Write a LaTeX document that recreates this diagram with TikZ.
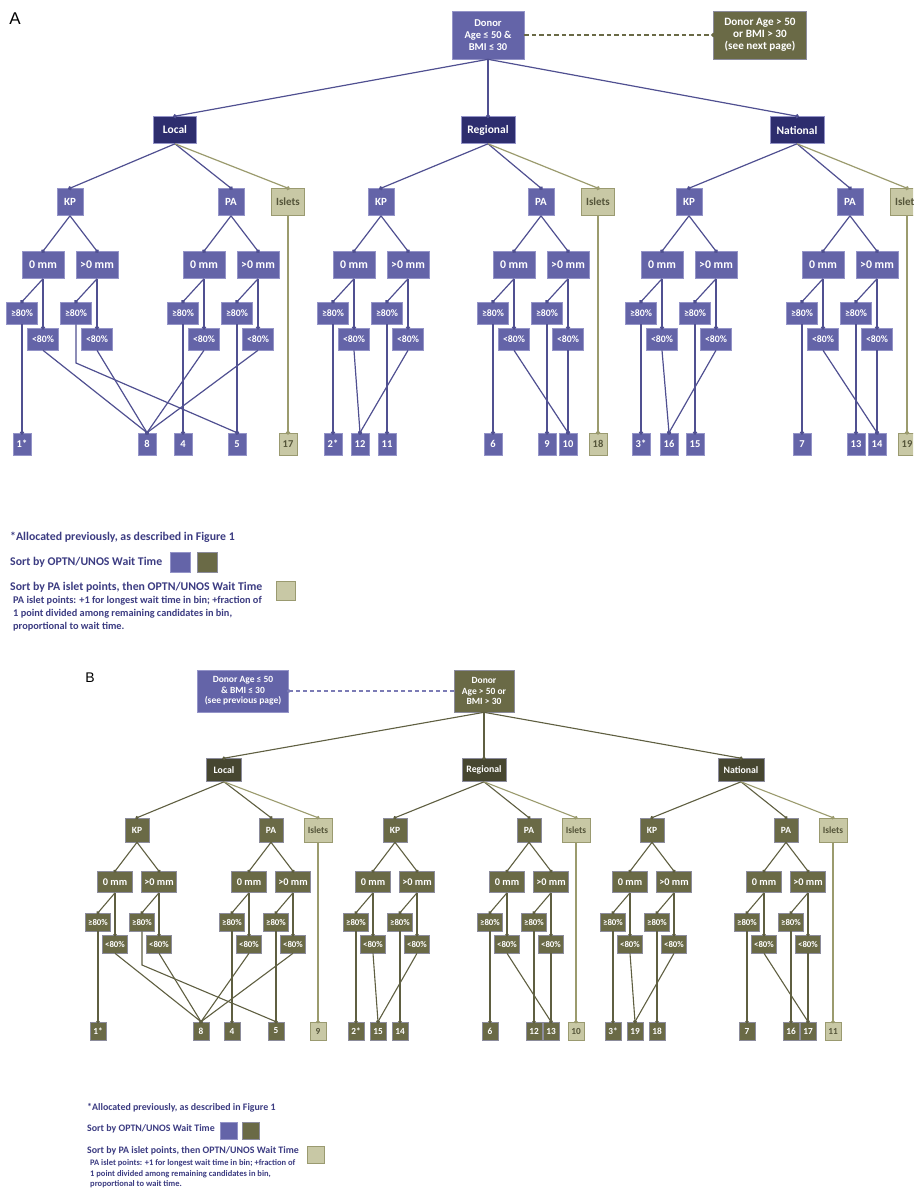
\documentclass[tikz,border=0pt]{standalone}
\usepackage{fontspec}
\setmainfont{Carlito}
\setsansfont{Liberation Sans}
\usetikzlibrary{arrows.meta}

\definecolor{pbox}{HTML}{6464A8}
\definecolor{pedge}{HTML}{9494C8}
\definecolor{pdark}{HTML}{2D2D6E}
\definecolor{pline}{HTML}{505091}
\definecolor{obox}{HTML}{6A6A46}
\definecolor{oedge}{HTML}{8C8C9C}
\definecolor{odark}{HTML}{464630}
\definecolor{oline}{HTML}{5F5F41}
\definecolor{kbox}{HTML}{C8C8A5}
\definecolor{kedge}{HTML}{9A9A70}
\definecolor{ktext}{HTML}{55553A}
\definecolor{kline}{HTML}{9B9B6E}
\definecolor{legtext}{HTML}{3C3C82}

\tikzset{
  bx/.style={rectangle,inner sep=0pt,align=center,text=white,line width=.6pt},
  pu/.style={bx,fill=pbox,draw=pedge},
  pn/.style={bx,fill=pdark,draw=pedge},
  ol/.style={bx,fill=obox,draw=oedge},
  od/.style={bx,fill=odark,draw=oedge},
  kh/.style={bx,fill=kbox,draw=kedge,text=ktext},
  % panel A
  topA/.style={minimum height=48pt,font=\fontsize{10.5}{12}\selectfont\bfseries},
  l1A/.style={minimum height=27pt,font=\fontsize{11.5}{13}\selectfont\bfseries},
  l2A/.style={minimum width=26pt,minimum height=27pt,font=\fontsize{11}{13}\selectfont\bfseries},
  l3A/.style={minimum width=42pt,minimum height=27pt,font=\fontsize{11.8}{13}\selectfont\bfseries},
  l4A/.style={minimum width=31pt,minimum height=22pt,font=\fontsize{9.8}{11}\selectfont\bfseries},
  lfA/.style={minimum width=18pt,minimum height=22pt,font=\fontsize{10.5}{12}\selectfont\bfseries},
  lnA/.style={pline,line width=1.2pt,-{Circle[length=4pt]},shorten >=-2pt},
  % panel B
  topB/.style={minimum height=42pt,font=\fontsize{9.5}{10.5}\selectfont\bfseries},
  l1B/.style={minimum height=23pt,font=\fontsize{9.8}{11}\selectfont\bfseries},
  l2B/.style={minimum width=24pt,minimum height=24pt,font=\fontsize{9.5}{11}\selectfont\bfseries},
  l3B/.style={minimum width=35pt,minimum height=21pt,font=\fontsize{10.3}{11}\selectfont\bfseries},
  l4B/.style={minimum width=25pt,minimum height=18pt,font=\fontsize{8.8}{9}\selectfont\bfseries},
  lfB/.style={minimum width=16pt,minimum height=18pt,font=\fontsize{9.3}{10}\selectfont\bfseries},
  lnB/.style={oline,line width=1.1pt,-{Circle[length=3.4pt]},shorten >=-1.7pt},
  leg/.style={anchor=west,inner sep=0pt,text=legtext,align=left},
}

\begin{document}
\begin{tikzpicture}[x=1pt,y=-1pt]
\useasboundingbox (0,0) rectangle (913,1188);
\clip (0,0) rectangle (913,1188);
\fill[white] (0,0) rectangle (913,1188);

% ---------- A ----------
\node[font=\sffamily\fontsize{17}{17}\selectfont] (labA) at (15,19) {A};
\node[pu,topA,minimum width=72pt] (A-top) at (488,35) {Donor\\Age ≤ 50 \&\\BMI ≤ 30};
\node[ol,topA,minimum width=93pt,font=\fontsize{11.2}{12}\selectfont\bfseries] (A-side) at (760,35) {Donor Age > 50\\or BMI > 30\\(see next page)};
\draw[obox,line width=1.6pt,dash pattern=on 4.5pt off 3pt,-{Circle[length=4pt]},shorten >=-2pt] (A-top.east) -- (A-side.west);
\coordinate (A-bend) at (0,363);

\foreach \r/\x/\w/\t in {loc/175/43/Local, reg/488/54/Regional, nat/797/54/National}{
  \node[pn,l1A,minimum width=\w pt] (A-\r) at (\x,130) {\t};
  \draw[lnA] (A-top.south) -- (A-\r.north);
}
\foreach \r/\k/\p/\i/\n in {loc/70/231/288/17, reg/381/541/598/18, nat/689/850/907/19}{
  \node[pu,l2A] (A-\r-kp) at (\k,202) {KP};
  \node[pu,l2A] (A-\r-pa) at (\p,202) {PA};
  \node[kh,l2A,minimum width=33pt] (A-\r-is) at (\i,202) {Islets};
  \node[kh,lfA] (A-l\n) at (\i,444) {\n};
  \draw[lnA] (A-\r.south) -- (A-\r-kp.north);
  \draw[lnA] (A-\r.south) -- (A-\r-pa.north);
  \draw[lnA,kline] (A-\r.south) -- (A-\r-is.north);
  \draw[lnA,kline] (A-\r-is.south) -- (A-l\n.north);
}
\foreach \n/\x/\t in {1/22/1*, 8/147/8, 4/183/4, 5/237/5, 2/333/2*, 12/360/12, 11/387/11,
    6/493/6, 9/547/9, 10/568/10, 3/641/3*, 16/669/16, 15/695/15, 7/802/7, 13/856/13, 14/877/14}
  \node[pu,lfA] (A-l\n) at (\x,444) {\t};

\foreach \g/\x/\a/\b/\c/\d in {loc-kp/70/1/8/5/8, loc-pa/231/4/8/5/8, reg-kp/381/2/12/11/12,
    reg-pa/541/6/10/9/10, nat-kp/689/3/16/15/16, nat-pa/850/7/14/13/14}{
  \node[pu,l3A] (A-\g-0) at (\x-27,265) {0 mm};
  \node[pu,l3A] (A-\g-1) at (\x+27,265) {>0 mm};
  \foreach \m/\dx in {0/-27,1/27}{
    \node[pu,l4A] (A-\g-\m-hi) at (\x+\dx-21,313) {≥80\%};
    \node[pu,l4A] (A-\g-\m-lo) at (\x+\dx,339) {<80\%};
    \draw[lnA] (A-\g.south) -- (A-\g-\m.north);
    \draw[lnA] (A-\g-\m.south) -- (A-\g-\m-hi.north);
    \draw[lnA] (A-\g-\m.south) -- (A-\g-\m-lo.north);
  }
  \draw[lnA] (A-\g-0-hi.south) -- (A-\g-0-hi.south |- A-bend) -- (A-l\a.north);
  \draw[lnA] (A-\g-0-lo.south) -- (A-l\b.north);
  \draw[lnA] (A-\g-1-hi.south) -- (A-\g-1-hi.south |- A-bend) -- (A-l\c.north);
  \draw[lnA] (A-\g-1-lo.south) -- (A-l\d.north);
}

% legend A
\node[leg,font=\fontsize{11.8}{13}\selectfont\bfseries] (legA1) at (10,537) {*Allocated previously, as described in Figure 1};
\node[leg,font=\fontsize{11.8}{13}\selectfont\bfseries] (legA2) at (10,562) {Sort by OPTN/UNOS Wait Time};
\node[pu,minimum size=20pt] (sqA1) at (180,562) {};
\node[ol,minimum size=20pt] (sqA2) at (207,562) {};
\node[leg,font=\fontsize{11.8}{13}\selectfont\bfseries] (legA3) at (10,587) {Sort by PA islet points, then OPTN/UNOS Wait Time};
\node[kh,minimum size=19pt] (sqA3) at (286,591) {};
\node[leg,font=\fontsize{10.3}{13}\selectfont\bfseries] (legA4) at (13,614)
  {PA islet points: +1 for longest wait time in bin; +fraction of\\1 point divided among remaining candidates in bin,\\proportional to wait time.};

% ---------- B ----------
\node[font=\sffamily\fontsize{14}{14}\selectfont] (labB) at (90,678) {B};
\node[ol,topB,minimum width=60pt] (B-top) at (484,691) {Donor\\Age > 50 or\\BMI > 30};
\node[pu,topB,minimum width=91pt] (B-side) at (243,691) {Donor Age ≤ 50\\\& BMI ≤ 30\\(see previous page)};
\draw[pbox!85!white,line width=1.5pt,dash pattern=on 4pt off 3pt,-{Circle[length=3.6pt]},shorten >=-1.8pt] (B-top.west) -- (B-side.east);
\coordinate (B-bend) at (0,965);

\foreach \r/\x/\w/\t in {loc/224/35/Local, reg/484/44/Regional, nat/741/46/National}{
  \node[od,l1B,minimum width=\w pt] (B-\r) at (\x,770) {\t};
  \draw[lnB] (B-top.south) -- (B-\r.north);
}
\foreach \r/\k/\p/\i/\n in {loc/137/271/318/9, reg/395/529/576/10, nat/652/786/833/11}{
  \node[ol,l2B] (B-\r-kp) at (\k,830) {KP};
  \node[ol,l2B] (B-\r-pa) at (\p,830) {PA};
  \node[kh,l2B,minimum width=28pt] (B-\r-is) at (\i,830) {Islets};
  \node[kh,lfB] (B-l\n) at (\i,1031) {\n};
  \draw[lnB] (B-\r.south) -- (B-\r-kp.north);
  \draw[lnB] (B-\r.south) -- (B-\r-pa.north);
  \draw[lnB,kline] (B-\r.south) -- (B-\r-is.north);
  \draw[lnB,kline] (B-\r-is.south) -- (B-l\n.north);
}
\foreach \n/\x/\t in {1/98/1*, 8/201/8, 4/232/4, 5/276/5, 2/356/2*, 15/378/15, 14/400/14,
    6/490/6, 12/534/12, 13/551/13, 3/613/3*, 19/635/19, 18/657/18, 7/747/7, 16/791/16, 17/808/17}
  \node[ol,lfB] (B-l\n) at (\x,1031) {\t};

\foreach \g/\x/\a/\b/\c/\d in {loc-kp/137/1/8/5/8, loc-pa/271/4/8/5/8, reg-kp/395/2/15/14/15,
    reg-pa/529/6/13/12/13, nat-kp/652/3/19/18/19, nat-pa/786/7/17/16/17}{
  \node[ol,l3B] (B-\g-0) at (\x-22,882) {0 mm};
  \node[ol,l3B] (B-\g-1) at (\x+22,882) {>0 mm};
  \foreach \m/\dx in {0/-22,1/22}{
    \node[ol,l4B] (B-\g-\m-hi) at (\x+\dx-17,922) {≥80\%};
    \node[ol,l4B] (B-\g-\m-lo) at (\x+\dx,944) {<80\%};
    \draw[lnB] (B-\g.south) -- (B-\g-\m.north);
    \draw[lnB] (B-\g-\m.south) -- (B-\g-\m-hi.north);
    \draw[lnB] (B-\g-\m.south) -- (B-\g-\m-lo.north);
  }
  \draw[lnB] (B-\g-0-hi.south) -- (B-\g-0-hi.south |- B-bend) -- (B-l\a.north);
  \draw[lnB] (B-\g-0-lo.south) -- (B-l\b.north);
  \draw[lnB] (B-\g-1-hi.south) -- (B-\g-1-hi.south |- B-bend) -- (B-l\c.north);
  \draw[lnB] (B-\g-1-lo.south) -- (B-l\d.north);
}

% legend B
\node[leg,font=\fontsize{9.9}{11}\selectfont\bfseries] (legB1) at (87,1108) {*Allocated previously, as described in Figure 1};
\node[leg,font=\fontsize{9.9}{11}\selectfont\bfseries] (legB2) at (87,1129) {Sort by OPTN/UNOS Wait Time};
\node[pu,minimum size=17pt] (sqB1) at (228.5,1130.5) {};
\node[ol,minimum size=17pt] (sqB2) at (250.5,1130.5) {};
\node[leg,font=\fontsize{9.9}{11}\selectfont\bfseries] (legB3) at (87,1151) {Sort by PA islet points, then OPTN/UNOS Wait Time};
\node[kh,minimum size=17pt] (sqB3) at (316,1154.5) {};
\node[leg,font=\fontsize{8.5}{10.5}\selectfont\bfseries] (legB4) at (90,1174)
  {PA islet points: +1 for longest wait time in bin; +fraction of\\1 point divided among remaining candidates in bin,\\proportional to wait time.};
\end{tikzpicture}
\end{document}
